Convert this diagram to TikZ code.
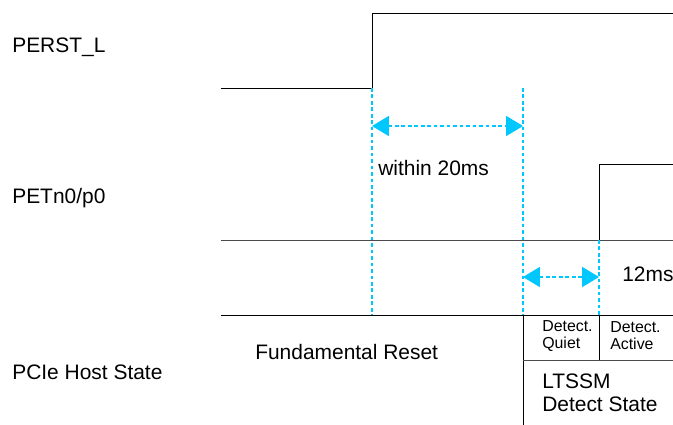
\documentclass[tikz,border=0pt]{standalone}
\usepackage{fontspec}
\setmainfont{Liberation Sans}
\usetikzlibrary{arrows.meta}
\definecolor{guidecyan}{RGB}{0,200,255}

\begin{document}
\begin{tikzpicture}[x=0.25cm, y=-0.25cm,
  lbl/.style={anchor=west, inner sep=0pt, font=\fontsize{14.9}{16.3}\selectfont},
  small/.style={anchor=west, inner sep=0pt, align=left, font=\fontsize{11.3}{12.2}\selectfont},
  wave/.style={line width=0.7pt},
  guide/.style={guidecyan, line width=0.75pt, dash pattern=on 2.6pt off 2pt},
  span/.style={guide, {Triangle[length=0.42cm, width=0.5cm]}-{Triangle[length=0.42cm, width=0.5cm]}}]
  \useasboundingbox (0,0) rectangle (67.3,42.5);
  % signal names
  \node[lbl] (perst) at (1.2,4.7) {PERST\_L};
  \node[lbl] (petn) at (1.2,19.8) {PETn0/p0};
  \node[lbl] (host) at (1.2,37.2) {PCIe Host State};
  % PERST_L
  \coordinate (perstLow) at (22.1,8.8);
  \coordinate (perstRise) at (37.2,8.8);
  \coordinate (perstHigh) at (67.3,1.3);
  \draw[wave] (perstLow) -- (perstRise) |- (perstHigh);
  % PETn0/p0
  \coordinate (petnLow) at (22.1,24.0);
  \coordinate (petnRise) at (59.9,24.0);
  \coordinate (petnEnd) at (67.3,24.0);
  \coordinate (petnHigh) at (67.3,16.4);
  \draw[wave, black!70] (petnLow) -- (petnEnd);
  \draw[wave] (petnRise) |- (petnHigh);
  % guides
  \coordinate (resetEnd) at (52.3,8.8);
  \coordinate (stateTop) at (22.1,31.5);
  \coordinate (stateRight) at (67.3,31.5);
  \draw[guide] (perstRise) -- (perstRise |- stateTop);
  \draw[guide] (resetEnd) -- (resetEnd |- stateTop);
  \draw[guide] (petnRise) -- (petnRise |- stateTop);
  \draw[span] (37.2,12.6) -- (52.3,12.6);
  \draw[span] (52.3,27.7) -- (59.9,27.7);
  \node[lbl] (within) at (37.8,16.8) {within 20ms};
  \node[lbl] (twelve) at (62.2,27.4) {12ms};
  % host state
  \coordinate (ltssmMid) at (67.3,36.0);
  \draw[wave] (stateTop) -- (stateRight);
  \draw[wave] (resetEnd |- stateTop) -- (52.3,42.5);
  \draw[wave, black!70] (resetEnd |- ltssmMid) -- (ltssmMid);
  \draw[wave] (petnRise |- stateTop) -- (petnRise |- ltssmMid);
  \node[lbl] (reset) at (25.5,35.2) {Fundamental Reset};
  \node[small] (quiet) at (54.2,33.6) {Detect.\\Quiet};
  \node[small] (active) at (61.0,33.6) {Detect.\\Active};
  \node[lbl, align=left] (ltssm) at (54.2,39.3) {LTSSM\\Detect State};
\end{tikzpicture}
\end{document}
